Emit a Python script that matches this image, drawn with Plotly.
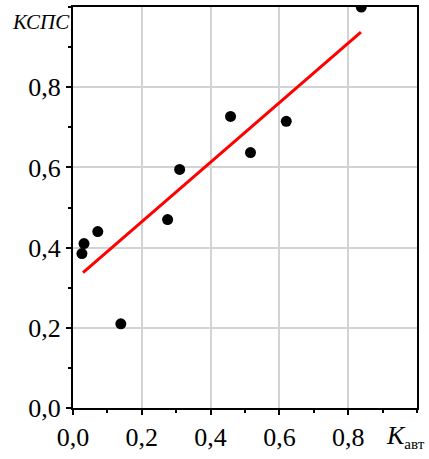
import plotly.graph_objects as go

k_avt = [0.026, 0.032, 0.072, 0.139, 0.275, 0.31, 0.458, 0.516, 0.62, 0.838]
ksps = [0.385, 0.41, 0.44, 0.21, 0.47, 0.595, 0.727, 0.637, 0.715, 1.0]
fit_x = [0.029, 0.837]
fit_y = [0.3375, 0.9375]
tick_vals = [0.0, 0.2, 0.4, 0.6, 0.8]

FONT = "Liberation Serif"

fig = go.Figure()
fig.add_trace(go.Scatter(x=fit_x, y=fit_y, mode="lines",
                         line=dict(color="#ff0000", width=3), showlegend=False))
fig.add_trace(go.Scatter(x=k_avt, y=ksps, mode="markers",
                         marker=dict(color="black", size=11, symbol="circle"),
                         showlegend=False))

axis_common = dict(
    showline=True, linecolor="black", linewidth=2, mirror=True,
    ticks="outside", ticklen=5, tickwidth=2, tickcolor="black",
    showgrid=True, gridcolor="#d3d3d3", gridwidth=1.5,
    zeroline=False, tickvals=tick_vals, tickformat=".1f",
    tickfont=dict(family=FONT, size=26, color="black"),
    automargin=False,
    minor=dict(ticks="outside", ticklen=3, tickwidth=2, tickcolor="black",
               dtick=0.1, showgrid=False),
)

fig.update_xaxes(range=[0, 1.0], **axis_common)
fig.update_yaxes(range=[0, 1.0], ticklabelstandoff=0, **axis_common)

fig.add_annotation(text="<i>КСПС</i>", xref="paper", yref="paper",
                   x=-0.094, y=0.963, xanchor="center", yanchor="middle",
                   showarrow=False, font=dict(family=FONT, size=21, color="black"))
fig.add_annotation(text="<i>K</i><sub><span style='font-size:15px'>авт</span></sub>",
                   xref="paper", yref="paper",
                   x=1.03, y=-0.072, xanchor="right", yanchor="middle",
                   showarrow=False, font=dict(family=FONT, size=26, color="black"))

fig.update_layout(
    template="none",
    width=429, height=459,
    margin=dict(l=73, r=12, t=7, b=51),
    plot_bgcolor="white", paper_bgcolor="white",
    separators=", ",
    font=dict(family=FONT, color="black"),
)

fig.write_html("out.html", config={"displayModeBar": False},
               post_script="document.body.style.margin='0';document.body.style.padding='0';")
